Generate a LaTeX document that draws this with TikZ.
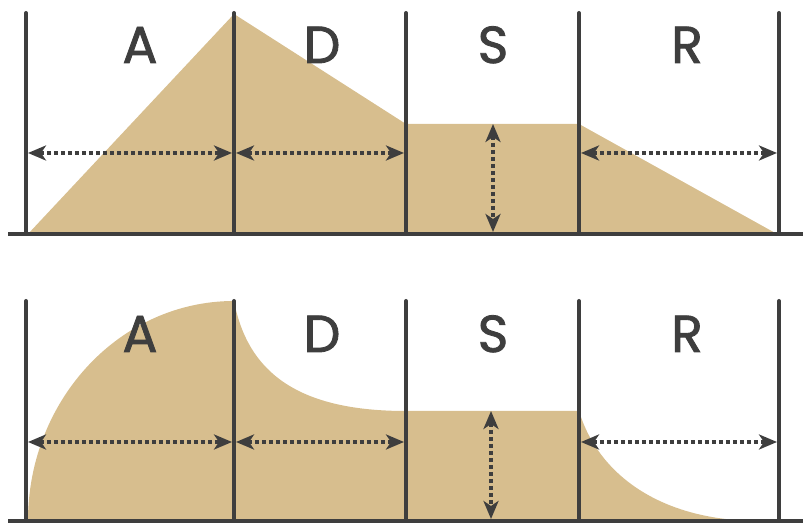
\documentclass[tikz,border=0pt]{standalone}
\usepackage{fontspec}
\setmainfont{Poppins}
\newfontfamily\stagefont{Poppins}[FakeBold=1.6]
\usetikzlibrary{arrows.meta}
\definecolor{sandColor}{RGB}{215,190,142}
\definecolor{darkColor}{RGB}{62,62,62}

\begin{document}
\begin{tikzpicture}[
        x=1pt, y=1pt,
        barra/.style={
            draw=darkColor,
            line width=4pt,
            line cap=round
        },
        suelo/.style={
            draw=darkColor,
            line width=4pt
        },
        flecha/.style={
            {Stealth[length=18pt,width=15pt,inset=5pt]}-{Stealth[length=18pt,width=15pt,inset=5pt]},
            draw=darkColor,
            line width=3.5pt,
            dash pattern=on 4pt off 3pt,
            shorten <=2pt,
            shorten >=2pt
        },
        etapa/.style={
            anchor=base,
            text=darkColor,
            font=\stagefont\fontsize{52}{52}\selectfont
        }
    ]
    \useasboundingbox (0,0) rectangle (803,524);

    % linear envelope
    \fill[sandColor] (28,290) -- (234,510) -- (406,400) -- (579,400) -- (777,290) -- cycle;
    \foreach \x [count=\i] in {26,234,406,579,779} {
        \draw[barra] (\x,290) -- (\x,511);
        \coordinate (t\i) at (\x,371);
    }
    \draw[suelo] (8,290) -- (803,290);
    \coordinate (tsTop) at (493,400);
    \coordinate (tsBot) at (493,290);

    \node[etapa] (tA) at (140,461) {A};
    \node[etapa] (tD) at (322,461) {D};
    \node[etapa] (tS) at (493,461) {S};
    \node[etapa] (tR) at (687,461) {R};

    \draw[flecha] (t1) -- (t2);
    \draw[flecha] (t2) -- (t3);
    \draw[flecha, shorten <=0pt] (tsTop) -- (tsBot);
    \draw[flecha] (t4) -- (t5);

    % curved envelope
    \fill[sandColor] (28,3) arc[start angle=180, end angle=90, x radius=206, y radius=220]
        .. controls (248,150) and (300,113) .. (406,113) -- (579,113)
        .. controls (598,50) and (660,3) .. (760,3) -- cycle;
    \foreach \x [count=\i] in {26,234,406,579,779} {
        \draw[barra] (\x,3) -- (\x,223);
        \coordinate (b\i) at (\x,82);
    }
    \draw[suelo] (8,3) -- (803,3);
    \coordinate (bsTop) at (491,113);
    \coordinate (bsBot) at (491,3);

    \node[etapa] (bA) at (140,172) {A};
    \node[etapa] (bD) at (322,172) {D};
    \node[etapa] (bS) at (493,172) {S};
    \node[etapa] (bR) at (687,172) {R};

    \draw[flecha] (b1) -- (b2);
    \draw[flecha] (b2) -- (b3);
    \draw[flecha, shorten <=0pt] (bsTop) -- (bsBot);
    \draw[flecha] (b4) -- (b5);

\end{tikzpicture}
\end{document}
